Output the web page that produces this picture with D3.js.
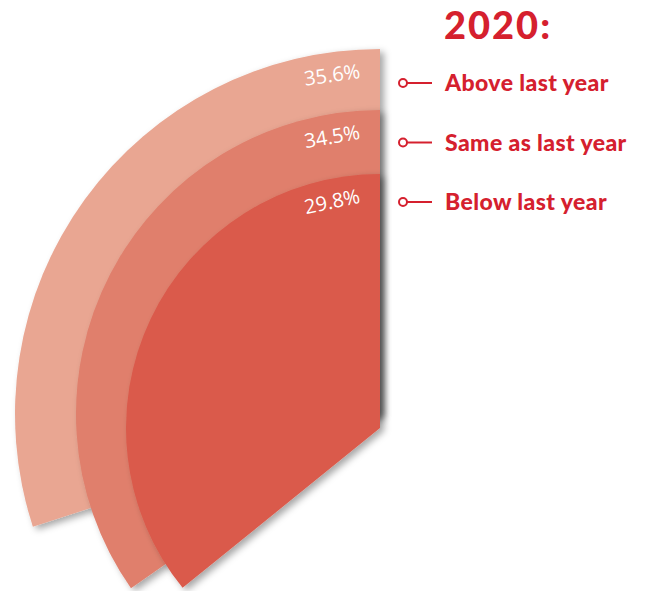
<!DOCTYPE html>
<html>
<head>
<meta charset="utf-8">
<script src="https://cdn.jsdelivr.net/npm/d3@7"></script>
<style>
  html, body { margin: 0; padding: 0; background: #ffffff; }
  svg { display: block; }
</style>
</head>
<body>
<svg id="chart" width="646" height="591"></svg>
<script>
// Survey result for 2020, one wedge per answer
const title = "2020:";
const categories = ["Above last year", "Same as last year", "Below last year"];
const values = [35.6, 34.5, 29.8];

// Layout of the stacked wedges (outermost first)
const ringRadius = [365, 304, 254];
const ringSweep = [108, 125, 129];      // degrees, counter-clockwise from 12 o'clock
const ringCenterY = [414, 414, 428];
const ringColors = ["#E9A692", "#E07F6C", "#DA5A4B"];
const accent = "#D5202E";

const svg = d3.select("#chart");
const cx = 380;

const radius = d3.scaleOrdinal().domain(categories).range(ringRadius);
const sweep = d3.scaleOrdinal().domain(categories).range(ringSweep);
const centerY = d3.scaleOrdinal().domain(categories).range(ringCenterY);
const color = d3.scaleOrdinal().domain(categories).range(ringColors);
const legendY = d3.scalePoint().domain(categories).range([83, 202]);

// soft drop shadow under each wedge
const defs = svg.append("defs");
const f = defs.append("filter").attr("id", "shadow")
  .attr("x", "-20%").attr("y", "-20%").attr("width", "140%").attr("height", "140%");
f.append("feDropShadow").attr("dx", 4).attr("dy", 3)
  .attr("stdDeviation", 3.5).attr("flood-color", "#000").attr("flood-opacity", 0.35);

const arc = d3.arc().innerRadius(0).startAngle(0);

const rows = categories.map((c, i) => ({ cat: c, value: values[i] }));

const wedges = svg.append("g").selectAll("g.wedge")
  .data(rows)
  .join("g")
  .attr("class", "wedge")
  .attr("transform", d => `translate(${cx},${centerY(d.cat)})`);

wedges.append("path")
  .attr("d", d => arc({ outerRadius: radius(d.cat), endAngle: -sweep(d.cat) * Math.PI / 180 }))
  .attr("fill", d => color(d.cat))
  .attr("filter", "url(#shadow)");

// value labels, tilted along each ring near its top
wedges.append("text")
  .attr("transform", d => {
    const r = radius(d.cat) - 22;
    const a = -Math.asin(48 / r);
    const x = r * Math.sin(a), y = -r * Math.cos(a);
    return `translate(${x},${y}) rotate(${a * 180 / Math.PI})`;
  })
  .attr("text-anchor", "middle")
  .attr("dominant-baseline", "central")
  .attr("fill", "#ffffff")
  .attr("font-family", "'Open Sans', sans-serif")
  .attr("font-weight", 400)
  .attr("font-size", 20)
  .text(d => d3.format(".1f")(d.value) + "%");

// legend
svg.append("text")
  .attr("x", 444).attr("y", 39)
  .attr("fill", accent)
  .attr("font-family", "Lato, Roboto, sans-serif")
  .attr("font-weight", 900)
  .attr("font-size", 38)
  .attr("letter-spacing", 2)
  .text(title);

const leg = svg.append("g").selectAll("g")
  .data(categories)
  .join("g")
  .attr("transform", d => `translate(0,${legendY(d)})`);

leg.append("line")
  .attr("x1", 407).attr("x2", 432).attr("y1", 0).attr("y2", 0)
  .attr("stroke", accent).attr("stroke-width", 2);
leg.append("circle")
  .attr("cx", 403).attr("cy", 0).attr("r", 4)
  .attr("fill", "#fff").attr("stroke", accent).attr("stroke-width", 2);
leg.append("text")
  .attr("x", 445).attr("y", 8)
  .attr("fill", accent)
  .attr("font-family", "Lato, Roboto, sans-serif")
  .attr("font-weight", 900)
  .attr("font-size", 23)
  .attr("letter-spacing", 0.4)
  .text(d => d);
</script>
</body>
</html>
